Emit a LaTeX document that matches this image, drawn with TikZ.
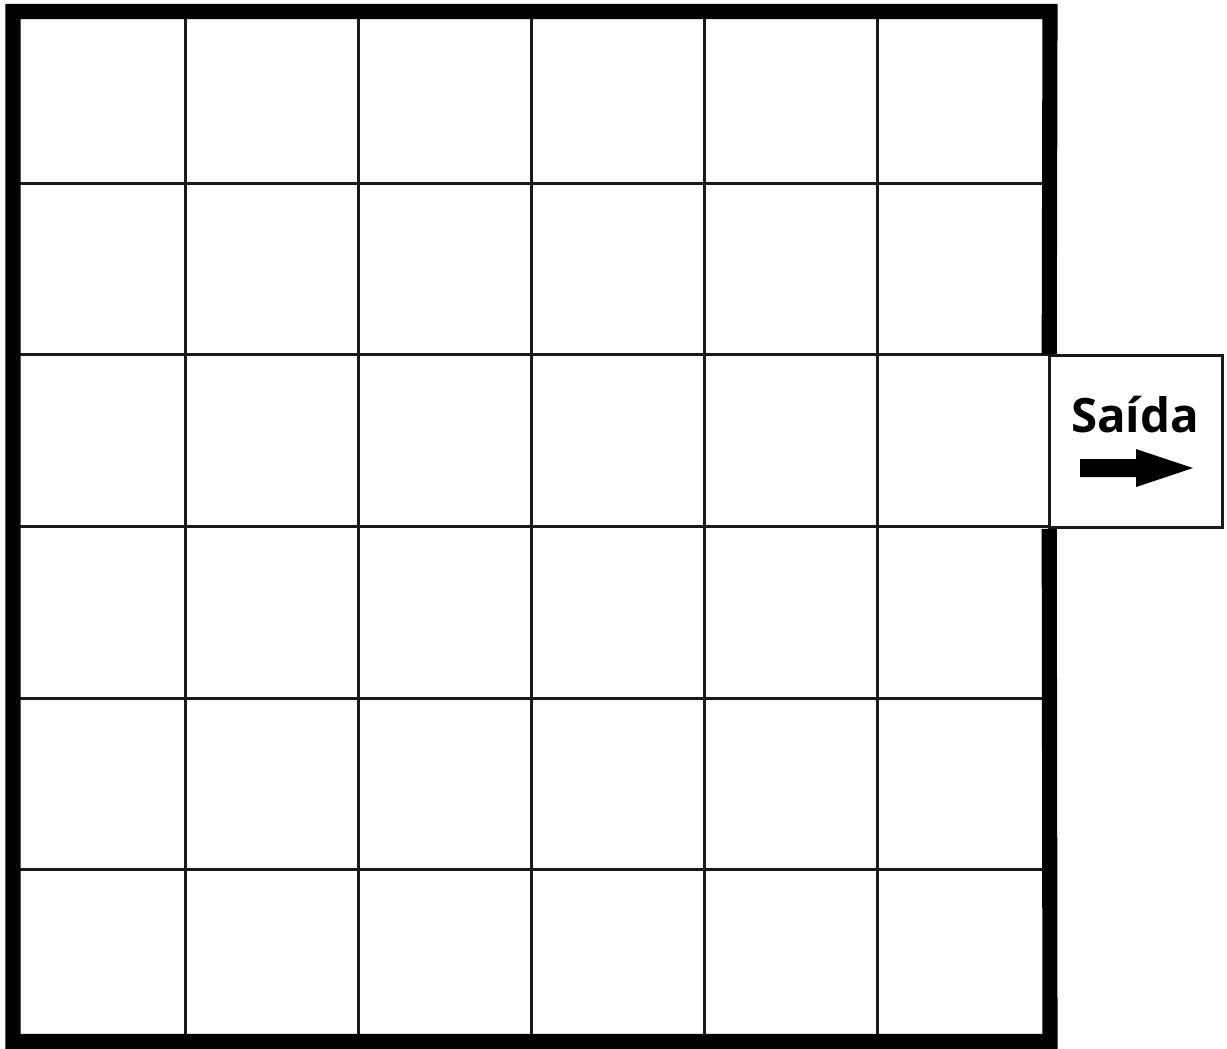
\documentclass[tikz,border=0pt]{standalone}
\usepackage{fontspec}
\setsansfont{Open Sans}
\usetikzlibrary{positioning}

\begin{document}
\begin{tikzpicture}[
    x=0.02cm, y=-0.02cm,
    gridline/.style={line width=1.7pt, black!90},
    wall/.style={line width=8.6pt, black, line join=miter},
    exitbox/.style={rectangle, draw=black!90, line width=1.5pt, fill=white, minimum width=3.46cm, minimum height=3.44cm, inner sep=0pt},
    exitlabel/.style={font=\sffamily\bfseries\fontsize{27}{30}\selectfont, inner sep=0pt, anchor=base},
    exitarrow/.style={fill=black}
]
\useasboundingbox (0,0) rectangle (1227,1048);

% --- Grid ---
\foreach \i in {1,...,5} {
    \draw[gridline] (13+172.83*\i, 11.5) -- (13+172.83*\i, 1041.5);
    \draw[gridline] (13, 11.5+171.67*\i) -- (1050, 11.5+171.67*\i);
}

% --- Exit ---
\node[exitbox] (saida) at (1136, 441.5) {};
\node[exitlabel] (saidaText) at (1135, 432) {Saída};
\fill[exitarrow] (1080,459) -- (1136,459) -- (1136,449) -- (1193,468)
    -- (1136,487) -- (1136,477) -- (1080,477) -- cycle;

% --- Walls (gap at the exit) ---
\draw[wall] (saida.north west) ++(1,0) -- (1050, 11.5) -- (13, 11.5) -- (13, 1041.5)
    -- (1050, 1041.5) -- ([xshift=0.02cm]saida.south west);
\end{tikzpicture}
\end{document}
